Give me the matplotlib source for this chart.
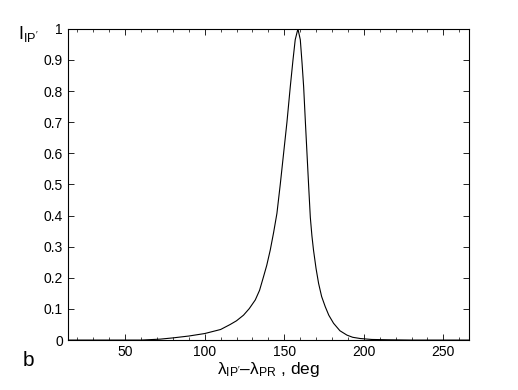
import numpy as np
import matplotlib
matplotlib.use("Agg")
import matplotlib.pyplot as plt
from matplotlib.ticker import MultipleLocator

plt.rcParams['font.family'] = ['Liberation Sans', 'DejaVu Sans']
plt.rcParams['mathtext.fontset'] = 'custom'
plt.rcParams['mathtext.rm'] = 'Liberation Sans'
plt.rcParams['mathtext.it'] = 'Liberation Sans'
plt.rcParams['mathtext.default'] = 'regular'

# curve
dlam = [14, 40, 60, 72, 80, 90, 100, 110, 116, 120, 124.4, 128, 131.8, 134.5,
        137, 139, 141.2, 143.3, 145.4, 147.5, 149.6, 151.7, 153.8, 155.5, 156.9,
        158.6, 160.1, 161.2, 162.2, 163.3, 164.3, 165.4, 166.4, 167.4, 168.4,
        170, 171.6, 173.5, 175.8, 178, 181, 185, 189.4, 193, 197.8, 205, 215,
        230, 250, 266]
intensity = [0.0, 0.0, 0.0, 0.003, 0.007, 0.013, 0.021, 0.034, 0.05, 0.062,
             0.08, 0.101, 0.129, 0.16, 0.204, 0.24, 0.289, 0.345, 0.407, 0.50,
             0.60, 0.70, 0.814, 0.90, 0.965, 1.0, 0.965, 0.89, 0.814, 0.70,
             0.60, 0.49, 0.394, 0.335, 0.289, 0.23, 0.182, 0.14, 0.107, 0.08,
             0.054, 0.03, 0.016, 0.009, 0.005, 0.002, 0.001, 0.0, 0.0, 0.0]

x_ticks = [50, 100, 150, 200, 250]
y_ticks = [0, 0.1, 0.2, 0.3, 0.4, 0.5, 0.6, 0.7, 0.8, 0.9, 1]
y_ticklabels = ['0', '0.1', '0.2', '0.3', '0.4', '0.5', '0.6', '0.7', '0.8', '0.9', '1']

fig = plt.figure(figsize=(5.18, 3.9), dpi=100)
ax = fig.add_axes([0.131, 0.128, 0.774, 0.798])

ax.plot(dlam, intensity, color='black', linewidth=0.8)

ax.set_xlim(14, 266)
ax.set_ylim(0, 1)
ax.set_xticks(x_ticks)
ax.set_yticks(y_ticks)
ax.set_yticklabels(y_ticklabels)
ax.xaxis.set_minor_locator(MultipleLocator(10))
ax.tick_params(which='both', direction='in', top=True, right=True, labelsize=10)
ax.tick_params(which='major', length=4, width=0.6)
ax.tick_params(which='minor', length=2, width=0.5)
for s in ax.spines.values():
    s.set_linewidth(0.8)

fig.text(0.035, 0.9, r"$I_{IP'}$", fontsize=13, ha='left', va='baseline')
ax.set_xlabel(r"$\lambda_{IP'}$–$\lambda_{PR}$ , deg", fontsize=12.5, labelpad=1)
fig.text(0.043, 0.062, "b", fontsize=15, ha='left', va='baseline')

fig.savefig("out.png", dpi=100)
